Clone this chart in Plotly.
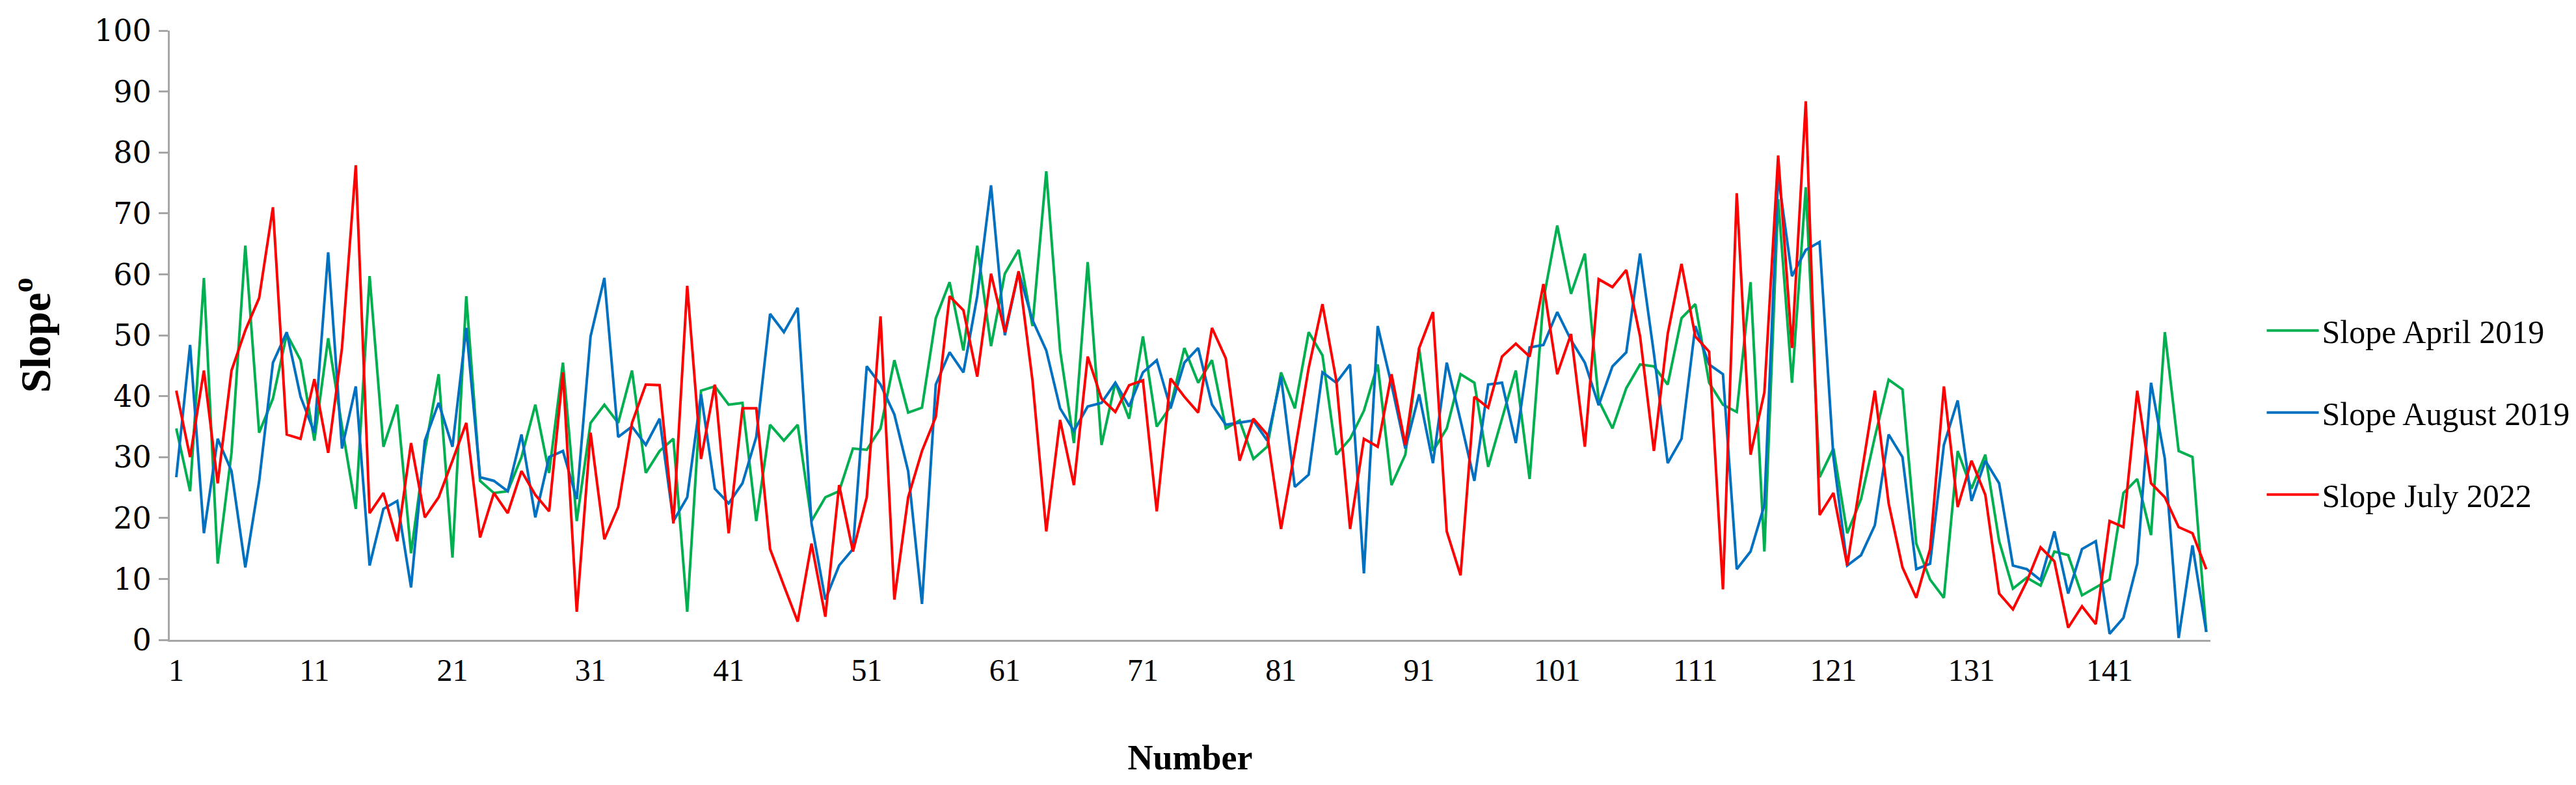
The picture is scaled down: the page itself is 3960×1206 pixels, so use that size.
import plotly.graph_objects as go

numbers = list(range(1, 149))

slope_april_2019 = [
    34.7, 24.4, 59.4, 12.5, 30.7, 64.7, 34.0, 39.6, 50.2, 45.9,
    32.7, 49.5, 35.0, 21.5, 59.7, 31.7, 38.6, 14.2, 31.0, 43.6,
    13.5, 56.4, 26.1, 24.1, 24.4, 30.0, 38.6, 27.4, 45.5, 19.5,
    35.6, 38.6, 35.6, 44.2, 27.4, 31.0, 33.0, 4.6, 40.9, 41.6,
    38.6, 38.9, 19.5, 35.3, 32.7, 35.3, 19.5, 23.4, 24.4, 31.4,
    31.2, 34.7, 45.9, 37.3, 38.1, 52.8, 58.7, 47.5, 64.7, 48.2,
    60.1, 64.0, 51.5, 76.9, 47.5, 32.3, 62.0, 32.0, 42.2, 36.3,
    49.8, 35.0, 38.3, 47.9, 42.2, 45.9, 34.7, 36.0, 29.7, 31.7,
    43.9, 38.0, 50.5, 46.7, 30.4, 33.0, 37.6, 45.2, 25.4, 30.4,
    47.9, 31.0, 34.7, 43.6, 42.2, 28.4, 36.3, 44.2, 26.4, 55.8,
    68.0, 56.8, 63.4, 39.3, 34.7, 41.3, 45.2, 44.9, 41.9, 52.8,
    55.1, 42.2, 38.6, 37.4, 58.7, 14.5, 72.3, 42.2, 74.3, 26.7,
    31.4, 17.5, 23.1, 33.3, 42.7, 41.1, 15.8, 9.9, 6.9, 31.0,
    24.8, 30.4, 16.2, 8.4, 10.2, 8.9, 14.5, 13.9, 7.3, 8.6,
    9.9, 24.1, 26.4, 17.2, 50.5, 31.0, 30.0, 1.3,
]

slope_august_2019 = [
    26.7, 48.4, 17.5, 33.0, 27.7, 11.9, 26.0, 45.5, 50.5, 39.9,
    34.0, 63.6, 31.4, 41.6, 12.2, 21.5, 22.8, 8.6, 32.7, 38.9,
    31.7, 51.2, 26.7, 26.1, 24.4, 33.7, 20.1, 30.0, 31.0, 23.1,
    49.8, 59.4, 33.3, 35.0, 32.0, 36.3, 19.5, 23.4, 40.3, 24.8,
    22.4, 25.7, 33.3, 53.5, 50.5, 54.5, 19.1, 6.6, 12.2, 14.9,
    44.9, 41.9, 37.0, 27.7, 5.9, 41.9, 47.2, 43.9, 56.4, 74.6,
    50.0, 60.4, 52.5, 47.5, 38.0, 34.3, 38.3, 38.9, 42.2, 38.3,
    43.9, 45.9, 38.0, 45.5, 47.9, 38.6, 35.3, 35.6, 36.0, 32.7,
    43.2, 25.1, 27.1, 43.9, 42.2, 45.2, 10.9, 51.5, 41.9, 31.4,
    40.3, 29.0, 45.5, 36.0, 26.1, 41.9, 42.2, 32.3, 48.0, 48.4,
    53.8, 49.2, 45.5, 38.5, 44.9, 47.2, 63.4, 47.0, 29.0, 33.0,
    51.5, 45.2, 43.6, 11.6, 14.5, 22.1, 76.2, 59.7, 64.0, 65.3,
    30.0, 12.2, 13.9, 18.8, 33.7, 30.0, 11.6, 12.5, 32.0, 39.3,
    22.8, 29.4, 25.7, 12.2, 11.6, 9.8, 17.8, 7.6, 14.9, 16.2,
    1.0, 3.6, 12.5, 42.2, 29.7, 0.3, 15.5, 1.3,
]

slope_july_2022 = [
    40.9, 30.0, 44.2, 25.7, 44.2, 50.8, 56.1, 71.0, 33.7, 33.0,
    42.8, 30.7, 47.9, 77.9, 20.8, 24.1, 16.2, 32.3, 20.1, 23.4,
    29.4, 35.6, 16.8, 24.1, 20.8, 27.7, 23.8, 21.1, 43.9, 4.6,
    34.0, 16.5, 21.8, 35.6, 41.9, 41.8, 19.1, 58.1, 29.7, 41.9,
    17.5, 38.0, 38.0, 14.9, 8.9, 3.0, 15.8, 3.8, 25.4, 14.5,
    23.4, 53.1, 6.6, 23.4, 31.0, 36.6, 56.4, 54.1, 43.2, 60.1,
    50.5, 60.5, 42.6, 17.8, 36.1, 25.4, 46.5, 39.6, 37.4, 41.8,
    42.6, 21.1, 42.9, 39.9, 37.3, 51.2, 46.2, 29.4, 36.3, 33.7,
    18.2, 31.0, 44.6, 55.1, 42.6, 18.2, 33.0, 31.7, 43.6, 32.0,
    47.9, 53.8, 17.8, 10.6, 39.9, 38.1, 46.5, 48.6, 46.5, 58.4,
    43.6, 50.2, 31.7, 59.2, 57.9, 60.7, 49.8, 31.0, 50.2, 61.7,
    49.8, 47.3, 8.3, 73.3, 30.4, 40.6, 79.5, 47.9, 88.4, 20.5,
    24.1, 12.2, 26.7, 40.9, 22.4, 11.9, 6.9, 14.9, 41.6, 21.8,
    29.4, 23.8, 7.6, 5.0, 9.6, 15.2, 12.9, 2.0, 5.5, 2.6,
    19.5, 18.5, 40.9, 25.7, 23.4, 18.5, 17.5, 11.6,
]

x_tick_vals = list(range(1, 149, 10))
y_tick_vals = list(range(0, 101, 10))

series = [
    ("Slope April 2019", slope_april_2019, "#00B050"),
    ("Slope August 2019", slope_august_2019, "#0070C0"),
    ("Slope July 2022", slope_july_2022, "#FF0000"),
]

fig = go.Figure()
for i, (name, vals, color) in enumerate(series):
    fig.add_trace(go.Scatter(
        x=numbers, y=vals, mode="lines", name=name,
        line=dict(color=color, width=4),
        legendgroup=f"g{i}",
    ))

serif = "Liberation Serif, Times New Roman, serif"
wide_serif = "DejaVu Serif, serif"

fig.update_layout(
    width=3960, height=1206,
    margin=dict(l=253, r=562, t=36, b=231),
    paper_bgcolor="white", plot_bgcolor="white",
    font=dict(family=serif, size=45, color="black"),
    legend=dict(
        x=1.026, y=0.373, xanchor="left", yanchor="middle",
        font=dict(family=serif, size=50, color="black"),
        tracegroupgap=58, itemwidth=80,
        bgcolor="rgba(0,0,0,0)",
    ),
    xaxis=dict(
        range=[0.53, 148.3],
        tickmode="array", tickvals=x_tick_vals,
        ticks="", showgrid=False, zeroline=False,
        showline=True, linecolor="#A6A6A6", linewidth=3,
        tickfont=dict(family=serif, size=48, color="black"),
        ticklabelstandoff=2,
        title=dict(text="<b>Number</b>", font=dict(family=serif, size=54, color="black"), standoff=90),
    ),
    yaxis=dict(
        range=[0, 100],
        tickmode="array", tickvals=y_tick_vals,
        ticks="outside", ticklen=14, tickcolor="#A6A6A6", tickwidth=3,
        showgrid=False, zeroline=False,
        showline=True, linecolor="#A6A6A6", linewidth=3,
        tickfont=dict(family=wide_serif, size=46, color="black"),
        ticklabelstandoff=2,
        title=dict(text="<b>Slope<sup>o</sup></b>", font=dict(family=serif, size=66, color="black"), standoff=46),
    ),
)

fig.write_html("out.html")
